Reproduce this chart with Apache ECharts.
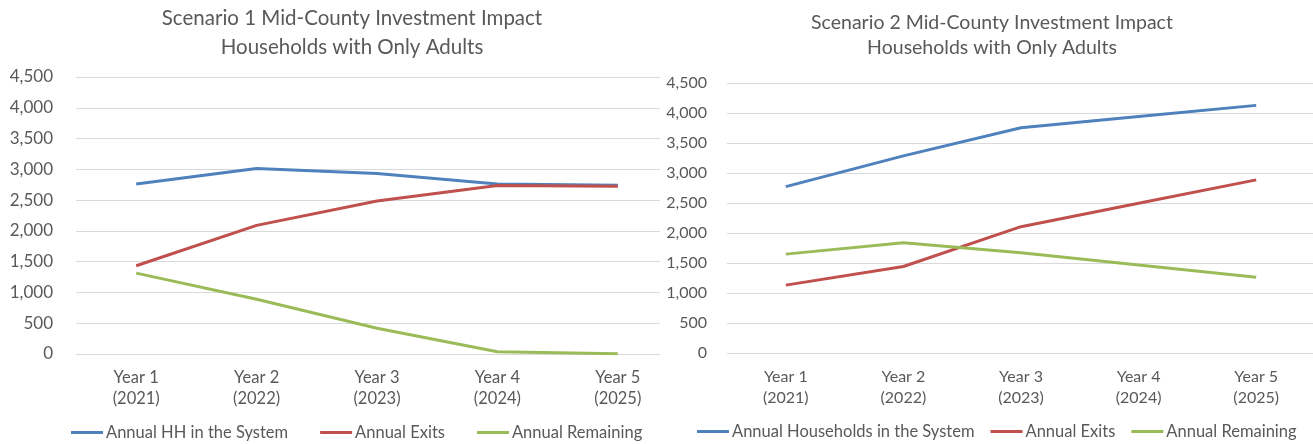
<!DOCTYPE html>
<html>
<head>
<meta charset="utf-8">
<script src="https://cdn.jsdelivr.net/npm/echarts@6/dist/echarts.min.js"></script>
<style>
  html, body { margin: 0; padding: 0; background: #fff; }
  #wrap1 { position: absolute; left: 0; top: 0; width: 660px; height: 444px; overflow: hidden; }
  #wrap2 { position: absolute; left: 660px; top: 0; width: 653px; height: 444px; overflow: hidden; }
  #c1 { width: 704px; height: 444px; }
  #c2 { width: 664px; height: 444px; }
</style>
</head>
<body>
<div id="wrap1"><div id="c1"></div></div>
<div id="wrap2"><div id="c2"></div></div>
<script>
const categories = ['Year 1\n(2021)', 'Year 2\n(2022)', 'Year 3\n(2023)', 'Year 4\n(2024)', 'Year 5\n(2025)'];

const title1 = 'Scenario 1 Mid-County Investment Impact\nHouseholds with Only Adults';
const s1Names = ['Annual HH in the System', 'Annual Exits', 'Annual Remaining'];
const s1Total = [2763, 3013, 2931, 2763, 2740];
const s1Exits = [1433, 2090, 2486, 2736, 2725];
const s1Remaining = [1314, 890, 418, 38, 5];

const title2 = 'Scenario 2 Mid-County Investment Impact\nHouseholds with Only Adults';
const s2Names = ['Annual Households in the System', 'Annual Exits', 'Annual Remaining'];
const s2Total = [2773, 3286, 3754, 3943, 4127];
const s2Exits = [1131, 1442, 2105, 2495, 2885];
const s2Remaining = [1648, 1838, 1671, 1465, 1264];

const colors = ['#4F81BD', '#C0504D', '#9BBB59'];
const FONT = 'Lato, "Open Sans", sans-serif';
const GRAY = '#595959';

function makeOption(cfg) {
  return {
    animation: false,
    color: colors,
    textStyle: { fontFamily: FONT },
    title: {
      text: cfg.title, left: 'center', top: cfg.titleTop, padding: 0,
      textStyle: { fontFamily: FONT, fontSize: cfg.titleSize, fontWeight: 'normal', color: GRAY, lineHeight: cfg.titleLH }
    },
    legend: {
      left: cfg.legendLeft, top: cfg.legendTop, icon: 'rect', itemWidth: 32, itemHeight: 3,
      itemGap: cfg.legendGap, padding: 0,
      textStyle: { fontFamily: FONT, fontSize: cfg.legendSize, color: GRAY, padding: [0, 0, 0, -2] }
    },
    grid: { left: cfg.gridLeft, top: cfg.gridTop, width: cfg.gridWidth, height: cfg.gridHeight, containLabel: false },
    xAxis: {
      type: 'category', data: categories, boundaryGap: true,
      axisLine: { show: false }, axisTick: { show: false },
      axisLabel: { color: GRAY, fontFamily: FONT, fontSize: cfg.catSize, lineHeight: 21, margin: cfg.catMargin, interval: 0 }
    },
    yAxis: {
      type: 'value', min: 0, max: 4500, interval: 500,
      axisLine: { show: false }, axisTick: { show: false },
      splitLine: { lineStyle: { color: '#D9D9D9', width: 1 } },
      axisLabel: { color: GRAY, fontFamily: FONT, fontSize: cfg.ySize, margin: cfg.yMargin,
        formatter: v => v.toLocaleString('en-US') }
    },
    series: cfg.names.map((n, i) => ({
      name: n, type: 'line', data: cfg.data[i], symbol: 'none', smooth: false,
      lineStyle: { width: 3, color: colors[i] }, itemStyle: { color: colors[i] }
    }))
  };
}

const ch1 = echarts.init(document.getElementById('c1'), null, { renderer: 'canvas' });
ch1.setOption(makeOption({
  title: title1, titleTop: 4, titleSize: 20.5, titleLH: 29,
  names: s1Names, data: [s1Total, s1Exits, s1Remaining],
  legendLeft: 71, legendTop: 424, legendGap: 32, legendSize: 16.5,
  gridLeft: 76, gridTop: 77, gridWidth: 602, gridHeight: 277,
  catSize: 16.5, catMargin: 13, ySize: 17, yMargin: 23
}));

const ch2 = echarts.init(document.getElementById('c2'), null, { renderer: 'canvas' });
ch2.setOption(makeOption({
  title: title2, titleTop: 10, titleSize: 19.5, titleLH: 25,
  names: s2Names, data: [s2Total, s2Exits, s2Remaining],
  legendLeft: 37, legendTop: 423, legendGap: 16, legendSize: 16.5,
  gridLeft: 67, gridTop: 83, gridWidth: 588, gridHeight: 270,
  catSize: 16, catMargin: 13, ySize: 16, yMargin: 20
}));
</script>
</body>
</html>
